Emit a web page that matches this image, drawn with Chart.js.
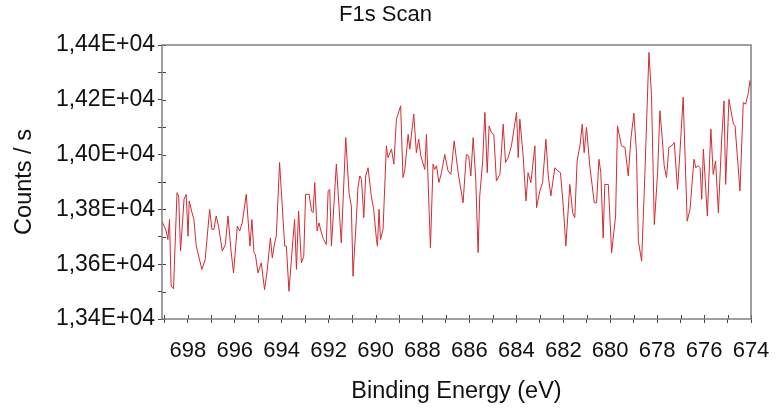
<!DOCTYPE html>
<html>
<head>
<meta charset="utf-8">
<script src="https://cdn.jsdelivr.net/npm/chart.js@4.4.0/dist/chart.umd.min.js"></script>
<style>
    html, body { margin: 0; padding: 0; background: #fff; }
</style>
</head>
<body>
<canvas id="f1s-chart" width="778" height="411"></canvas>
<script>
const energies = [
    699.10, 698.92, 698.85, 698.78, 698.71, 698.61, 698.46, 698.39, 698.31, 698.16,
    698.07, 697.99, 697.94, 697.82, 697.74, 697.64, 697.40, 697.26, 697.07, 696.97,
    696.89, 696.79, 696.69, 696.53, 696.40, 696.29, 696.15, 696.05, 695.89, 695.79,
    695.68, 695.51, 695.35, 695.27, 695.18, 695.12, 695.01, 694.87,
    694.73, 694.63, 694.48, 694.40, 694.30, 694.23, 694.09, 693.87, 693.80, 693.69,
    693.52, 693.45, 693.37, 693.28, 693.16, 693.06, 692.98, 692.83, 692.73, 692.66,
    692.59, 692.49, 692.41, 692.31, 692.21, 692.10, 692.02, 691.95, 691.88, 691.67,
    691.46, 691.27, 691.13, 691.03, 690.96, 690.82, 690.75, 690.67, 690.60, 690.50,
    690.42, 690.32,
    690.18, 690.08, 689.96, 689.92, 689.85, 689.79, 689.68, 689.54, 689.47, 689.32,
    689.22, 689.11, 688.93, 688.83, 688.75, 688.61, 688.54, 688.37, 688.26, 688.16,
    688.07, 687.90, 687.83, 687.66, 687.55, 687.48, 687.40, 687.30, 687.19, 687.05,
    686.91, 686.79, 686.65, 686.48, 686.27, 686.13, 686.03, 685.94, 685.84,
    685.73, 685.63, 685.56, 685.44, 685.34, 685.24, 685.16, 685.06, 684.96, 684.85,
    684.70, 684.56, 684.46, 684.35, 684.21, 683.99, 683.92, 683.85, 683.71, 683.59,
    683.50, 683.38, 683.21, 683.14, 683.00, 682.88, 682.74, 682.64, 682.53, 682.36,
    682.22, 682.12, 682.00, 681.89, 681.72, 681.60, 681.51, 681.41,
    681.29, 681.19, 681.11, 681.01, 680.87, 680.68, 680.58, 680.48, 680.40, 680.30,
    680.23, 680.08, 679.94, 679.77, 679.69, 679.52, 679.37, 679.23, 679.12, 678.99,
    678.88, 678.80, 678.66, 678.52, 678.35, 678.24, 678.12, 677.98, 677.88, 677.78,
    677.70, 677.60, 677.50, 677.38, 677.27, 677.13, 677.03, 676.89,
    676.72, 676.60, 676.43, 676.35, 676.25, 676.17, 676.10, 676.03, 675.86, 675.71,
    675.61, 675.51, 675.39, 675.25, 675.15, 675.08, 674.94, 674.75, 674.68, 674.47,
    674.33, 674.23, 674.11, 674.04, 674.00
];

// counts per second at each energy above
const counts = [
    13757, 13721, 13690, 13763, 13520, 13510, 13861, 13849, 13648, 13837,
    13855, 13702, 13831, 13788, 13763, 13666, 13581, 13617, 13800, 13727,
    13727, 13776, 13739, 13648, 13672, 13776, 13642, 13568, 13739, 13721,
    13751, 13855, 13666, 13763, 13642, 13635, 13568, 13605,
    13507, 13568, 13696, 13623, 13678, 13702, 13971, 13666, 13666, 13501,
    13690, 13763, 13581, 13794, 13605, 13629, 13855, 13855, 13794, 13788,
    13898, 13721, 13751, 13715, 13690, 13672, 13867, 13873, 13666, 13965,
    13678, 14062, 13861, 13812, 13556, 13763, 13879, 13922, 13910, 13770,
    13922, 13952,
    13849, 13800, 13690, 13666, 13800, 13690, 13727, 14032, 13989, 14020,
    13965, 14129, 14178, 13916, 13946, 14074, 14020, 14148, 14007, 14056,
    13995, 13946, 14074, 13660, 13965, 13946, 13959, 13898, 13934, 14001,
    13940, 13928, 14050, 13934, 13824, 14001, 13995, 13922, 14062,
    13910, 13642, 13849, 13971, 14154, 13934, 14105, 14080, 14074, 13904,
    13928, 14111, 13971, 13989, 14032, 14154, 13989, 14129, 13995, 13831,
    13934, 13898, 14032, 13806, 13867, 13898, 14056, 13922, 13849, 13952,
    13940, 13934, 13812, 13666, 13891, 13788, 13770, 13977,
    14032, 14111, 14007, 14099, 13959, 13824, 13824, 13983, 13934, 13696,
    13891, 13891, 13642, 13776, 14105, 14032, 14026, 13922, 14056, 14151,
    14007, 13684, 13611, 13934, 14373, 14215, 13745, 13934, 14160, 14056,
    13959, 13916, 14026, 14032, 14044, 13873, 14007, 14209,
    13757, 13800, 13983, 13952, 13959, 13952, 13837, 14020, 13776, 14093,
    13928, 13977, 13788, 14056, 14196, 13891, 14202, 14111, 14105, 13867,
    14190, 14184, 14227, 14270, 14251
];

const xLabelValues = [698, 696, 694, 692, 690, 688, 686, 684, 682, 680, 678, 676, 674];
const yLabelValues = [13400, 13600, 13800, 14000, 14200, 14400];

function formatCounts(v) {
    return (v / 10000).toFixed(2).replace('.', ',') + 'E+04';
}

const points = energies.map((e, i) => ({x: e, y: counts[i]}));

// frame round the plot and the inward half of each tick mark
const framePlugin = {
    id: 'frame',
    afterDraw(chart) {
        const {ctx, chartArea: a, scales} = chart;
        ctx.save();
        ctx.strokeStyle = '#444';
        ctx.lineWidth = 1;
        ctx.beginPath();
        scales.x.ticks.forEach(t => {
            const px = Math.round(scales.x.getPixelForValue(t.value)) + 0.5;
            ctx.moveTo(px, a.bottom);
            ctx.lineTo(px, a.bottom - 4);
        });
        scales.y.ticks.forEach(t => {
            const py = Math.round(scales.y.getPixelForValue(t.value)) + 0.5;
            ctx.moveTo(a.left, py);
            ctx.lineTo(a.left + 4, py);
        });
        ctx.stroke();
        ctx.strokeStyle = '#808080';
        ctx.lineWidth = 1.5;
        ctx.strokeRect(a.left, a.top, a.right - a.left, a.bottom - a.top);
        ctx.restore();
    }
};

Chart.defaults.font.family = "'Liberation Sans', Arial, sans-serif";
Chart.defaults.color = '#111';

const config = {
    type: 'line',
    data: {
        datasets: [{
            label: 'F1s',
            data: points,
            borderColor: '#d42a32',
            borderWidth: 1,
            pointRadius: 0,
            fill: false,
            tension: 0
        }]
    },
    options: {
        responsive: false,
        devicePixelRatio: 1,
        animation: false,
        layout: {
            // left/right split keeps the title centred where the original has it
            padding: {left: 20, right: 27, top: 0, bottom: 0}
        },
        plugins: {
            legend: {display: false},
            tooltip: {enabled: false},
            title: {
                display: true,
                text: 'F1s Scan',
                font: {size: 22, weight: 'normal'},
                color: '#111',
                padding: {top: 2, bottom: 16.6}
            }
        },
        scales: {
            x: {
                type: 'linear',
                reverse: true,
                min: 674,
                max: 699.1,
                afterFit: s => {
                    s.height = 92;
                    s.paddingLeft = 0;
                    s.paddingRight = 0;
                },
                border: {display: false},
                grid: {
                    drawOnChartArea: false,
                    drawTicks: true,
                    tickLength: 4,
                    color: '#444'
                },
                ticks: {
                    stepSize: 1,
                    includeBounds: false,
                    autoSkip: false,
                    maxRotation: 0,
                    padding: 15,
                    font: {size: 22},
                    callback: v => xLabelValues.includes(v) ? String(v) : ''
                },
                title: {
                    display: true,
                    text: 'Binding Energy (eV)',
                    font: {size: 23.5},
                    padding: {top: 0, bottom: 5}
                }
            },
            y: {
                min: 13400,
                max: 14400,
                afterFit: s => { s.width = 142; },
                border: {display: false},
                grid: {
                    drawOnChartArea: false,
                    drawTicks: true,
                    tickLength: 4,
                    color: '#444'
                },
                ticks: {
                    stepSize: 100,
                    autoSkip: false,
                    padding: 3,
                    font: {size: 23},
                    callback: v => yLabelValues.includes(v) ? formatCounts(v) : ''
                },
                title: {
                    display: true,
                    text: 'Counts / s',
                    font: {size: 23.5},
                    padding: {top: -10, bottom: 0}
                }
            }
        }
    },
    plugins: [framePlugin]
};

const chart = new Chart(document.getElementById('f1s-chart'), config);
</script>
</body>
</html>
